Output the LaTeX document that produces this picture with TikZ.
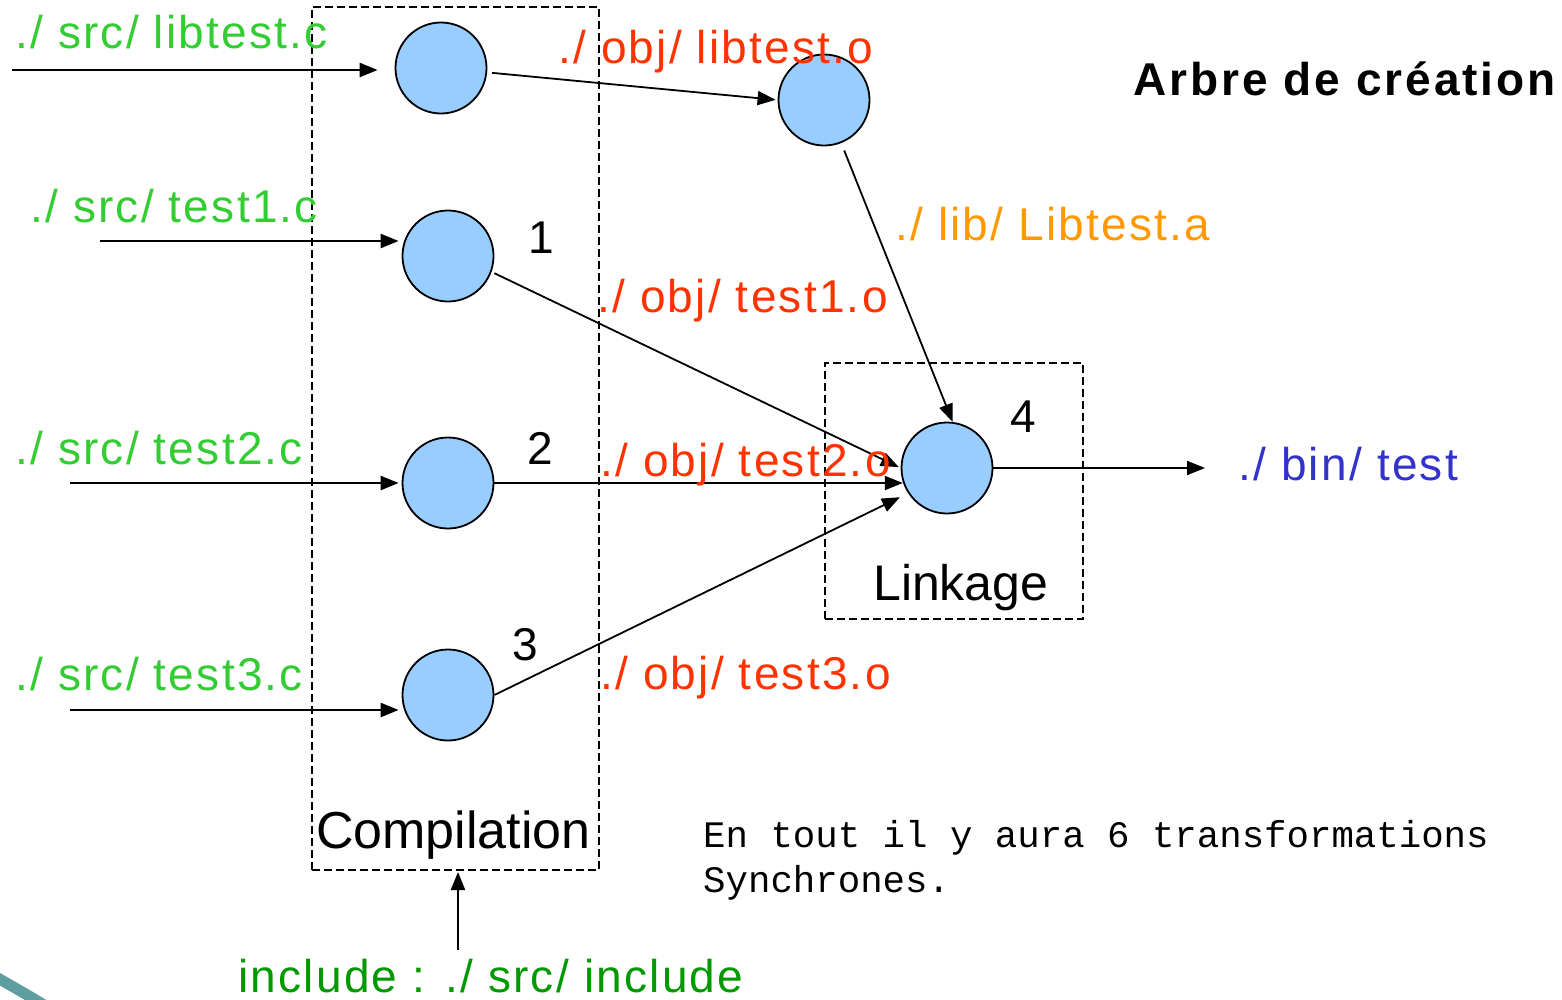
\documentclass[tikz,border=0pt]{standalone}
\usepackage{fontspec}
\setmainfont{Liberation Sans}
\newfontfamily\labelfont[LetterSpace=4.9]{Liberation Sans}
\newfontfamily\titlefont[LetterSpace=6.5]{Liberation Sans}
\newfontfamily\notefont{Liberation Mono}
\usetikzlibrary{arrows.meta,shapes.geometric}

\definecolor{srcgreen}{HTML}{33CC33}
\definecolor{incgreen}{HTML}{009900}
\definecolor{objred}{HTML}{FF3300}
\definecolor{liborange}{HTML}{FF9900}
\definecolor{binblue}{HTML}{3333CC}
\definecolor{stepfill}{HTML}{99CCFF}
\definecolor{decoteal}{HTML}{5F9EA0}

\tikzset{
  x=1pt, y=-1pt,
  stage/.style={ellipse, draw=black, line width=1.8pt, fill=stepfill,
    minimum width=91pt, minimum height=91pt, inner sep=0pt},
  dashbox/.style={draw=black, dashed, dash pattern=on 8pt off 4pt, line width=2pt,
    inner sep=0pt},
  feed/.style={line width=2.4pt, -{Triangle[length=18pt,width=14pt]}},
  flow/.style={line width=1.8pt, -{Triangle[length=18pt,width=14pt]}},
  lbl/.style={anchor=base west, inner sep=0pt, font=\fontsize{46}{52}\labelfont},
  num/.style={anchor=base west, inner sep=0pt, font=\fontsize{46}{52}\selectfont},
  note/.style={anchor=base west, inner sep=0pt, font=\fontsize{37.4}{45}\notefont},
}

\begin{document}
\begin{tikzpicture}
\useasboundingbox (0,0) rectangle (1562,999);

% decorative band in the lower left corner
\begin{scope}
  \clip (0,0) rectangle (1562,999);
  \draw[decoteal, line width=11pt] (-20,968) .. controls (10,985) and (30,996) .. (60,1015);
\end{scope}

% stage groups
\node[dashbox, minimum width=287pt, minimum height=863pt] (comp) at (455.5,438.5) {};
\node[dashbox, minimum width=258pt, minimum height=256pt] (link) at (954,491) {};

% transformation steps
\node[stage] (A)  at (441,68)  {};
\node[stage] (B)  at (824,100) {};
\node[stage] (C1) at (448,256) {};
\node[stage] (C2) at (448,483) {};
\node[stage] (C3) at (448,695) {};
\node[stage] (L)  at (947,468) {};

% free ends of the inputs and of the output
\coordinate (inLib) at (12,70);
\coordinate (in1)   at (100,241);
\coordinate (in2)   at (70,483);
\coordinate (in3)   at (70,710);
\coordinate (outBin) at (1205,467);
\coordinate (incSrc) at (458,950);

% sources
\draw[feed, shorten >=17pt] (inLib) -- (inLib -| A.west);
\draw[feed, shorten >=3pt] (in1) -- (in1 -| C1.west);
\draw[feed, shorten >=3pt] (in2) -- (in2 -| C2.west);
\draw[feed, shorten >=3pt] (in3) -- (in3 -| C3.west);

% objects and library
\draw[flow, shorten <=5pt, shorten >=2pt] (A) -- (B.west);
\draw[flow, shorten <=8pt] (B) -- (L.83);
\draw[flow, shorten <=3pt, shorten >=2pt] (C1.-20) -- (L.west);
\draw[flow] (C2.east) -- (C2.east -| L.198);
\draw[flow, shorten >=9pt] (C3.east) -- (L.213);

% executable
\draw[flow] (L.east) -- (L.east -| outBin);

% include directory
\draw[feed, shorten >=1pt] (incSrc) -- (incSrc |- comp.south);

% file names
\node[lbl, srcgreen] (tLibc) at (15,48)  {./ src/ libtest.c};
\node[lbl, srcgreen] (tT1c)  at (30,222) {./ src/ test1.c};
\node[lbl, srcgreen] (tT2c)  at (15,464) {./ src/ test2.c};
\node[lbl, srcgreen] (tT3c)  at (15,690) {./ src/ test3.c};
\node[lbl, objred] (tLibo) at (558,63)  {./ obj/ libtest.o};
\node[lbl, objred] (tT1o)  at (597,312) {./ obj/ test1.o};
\node[lbl, objred] (tT2o)  at (600,476) {./ obj/ test2.o};
\node[lbl, objred] (tT3o)  at (600,689) {./ obj/ test3.o};
\node[lbl, liborange] (tLiba) at (895,240) {./ lib/ Libtest.a};
\node[lbl, binblue] (tBin) at (1238,480) {./ bin/ test};
\node[lbl, incgreen] (tInc) at (238,992) {include : ./ src/ include};

% step numbers
\node[num] (n1) at (528,253) {1};
\node[num] (n2) at (527,464) {2};
\node[num] (n3) at (512,660) {3};
\node[num] (n4) at (1010,432) {4};

% group names
\node[anchor=base west, inner sep=0pt, font=\fontsize{50}{56}\selectfont] (tLink) at (873,600) {Linkage};
\node[anchor=base west, inner sep=0pt, font=\fontsize{52}{58}\selectfont] (tComp) at (316,848) {Compilation};

% title
\node[anchor=base west, inner sep=0pt, font=\fontsize{46}{52}\titlefont\bfseries] (title) at (1133,95) {Arbre de création};

% note
\node[note] (note1) at (703,847) {En tout il y aura 6 transformations};
\node[note] (note2) at (703,892) {Synchrones.};
\end{tikzpicture}
\end{document}
